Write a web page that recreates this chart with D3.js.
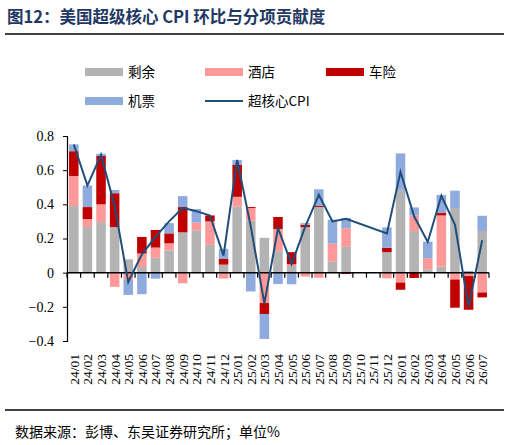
<!DOCTYPE html>
<html><head><meta charset="utf-8">
<script src="https://cdn.jsdelivr.net/npm/d3@7"></script>
<style>body{margin:0;background:#fff}</style>
</head><body><svg id="c" width="510" height="445"></svg>
<script>
const categories=["24/01","24/02","24/03","24/04","24/05","24/06","24/07","24/08","24/09","24/10","24/11","24/12","25/01","25/02","25/03","25/04","25/05","25/06","25/07","25/08","25/09","25/10","25/11","25/12","26/01","26/02","26/03","26/04","26/05","26/06","26/07"];
const residual=[0.39,0.267,0.296,0.267,0.078,0.033,0.087,0.13,0.236,0.248,0.163,0.047,0.386,0.304,0.204,0.126,0.039,0.267,0.384,0.064,0.151,null,null,0.12,0.485,0.244,0.02,0.035,0.378,0,0.244];
const hotel=[0.176,0.047,0.104,-0.083,-0.043,0.079,0.06,0.042,-0.062,0.045,0.137,-0.035,0.058,0.074,-0.178,0.13,0.01,-0.023,-0.03,0.106,0.109,null,null,-0.033,-0.058,0.091,0.065,0.30,-0.04,-0.02,-0.116];
const auto=[0.145,0.07,0.284,0.198,0,0.097,0.103,0.058,0.148,0,0.035,0.033,0.188,0.006,-0.064,0.07,0.071,0.013,0.006,0,-0.008,null,null,0.025,-0.042,-0.031,0,0.014,-0.165,-0.197,-0.029];
const airfare=[0.04,0.126,0.012,0.019,-0.087,-0.126,-0.035,0.06,0.064,0.079,0,0.06,0.027,-0.11,-0.146,-0.066,-0.068,0.01,0.098,0.14,0.06,null,null,0.12,0.213,0.047,0.097,0.106,0.102,0.01,0.089];
const supercore=[0.75,0.51,0.69,0.39,-0.055,0.107,0.21,0.3,0.38,0.36,0.335,0.1,0.66,0.27,-0.18,0.26,0.05,0.27,0.455,0.3,0.315,null,null,0.23,0.59,0.33,0.18,0.45,0.28,-0.2,0.19];
const yTicks=[-0.4,-0.2,0,0.2,0.4,0.6,0.8];
const seriesNames=["剩余","酒店","车险","机票"];
const colors=["#b3b3b3","#ff9999","#c00000","#8faadc"];

const svg=d3.select("#c");
const serif="'Liberation Serif','Times New Roman',serif";
const cjk="'Noto Sans CJK SC',sans-serif";
svg.append("text").attr("x",7).attr("y",23).attr("fill","#1f3864").attr("font-weight","bold")
  .attr("font-size",16.5).attr("font-family",cjk).text("图12：美国超级核心 CPI 环比与分项贡献度");
svg.append("line").attr("x1",5).attr("x2",504).attr("y1",34).attr("y2",34).attr("stroke","#000").attr("stroke-width",1.5);
svg.append("line").attr("x1",5).attr("x2",504).attr("y1",410).attr("y2",410).attr("stroke","#000").attr("stroke-width",1.5);
svg.append("text").attr("x",15).attr("y",437).attr("font-size",14).attr("font-family",cjk).text("数据来源：彭博、东吴证券研究所；单位%");

const x=d3.scaleBand().domain(categories).range([67,489]).paddingInner(0.3).paddingOuter(0.15);
const y=d3.scaleLinear().domain([-0.4,0.8]).range([341,136]);

const rows=categories.map((c,i)=>({c,s0:residual[i]||0,s1:hotel[i]||0,s2:auto[i]||0,s3:airfare[i]||0}));
const stack=d3.stack().keys(["s0","s1","s2","s3"]).offset(d3.stackOffsetDiverging)(rows);
stack.forEach((layer,k)=>{
  svg.append("g").selectAll("rect").data(layer).join("rect")
    .attr("x",d=>x(d.data.c)).attr("width",x.bandwidth())
    .attr("y",d=>y(Math.max(d[0],d[1]))).attr("height",d=>Math.abs(y(d[0])-y(d[1])))
    .attr("fill",colors[k]);
});

// y axis
const ya=svg.append("g").attr("transform","translate(67,0)").call(d3.axisLeft(y).tickValues(yTicks).tickSize(4).tickFormat(d=>d===0?"0":d3.format(".1f")(d)));
ya.selectAll("text").attr("font-family",serif).attr("font-size",14).attr("fill","#000").attr("dx",-6);
ya.select(".domain").attr("stroke","#000").attr("stroke-width",1.2);
ya.selectAll(".tick line").attr("stroke","#000");
// zero axis
const step=x.step();
svg.append("line").attr("x1",67).attr("x2",489).attr("y1",y(0)).attr("y2",y(0)).attr("stroke","#000").attr("stroke-width",1.5);
svg.append("g").selectAll("line").data(d3.range(categories.length+1)).join("line")
  .attr("x1",i=>x.range()[0]+i*step - (i===0?0:0)).attr("x2",i=>x.range()[0]+i*step)
  .attr("y1",y(0)).attr("y2",y(0)+5).attr("stroke","#000").attr("stroke-width",1.2);
// x labels
svg.append("g").selectAll("text").data(categories).join("text")
  .attr("transform",d=>`translate(${x(d)+x.bandwidth()/2+5},354) rotate(-90)`)
  .attr("text-anchor","end").attr("font-family",serif).attr("font-size",13.5).text(d=>d);

// line
const pts=categories.map((c,i)=>({c,v:supercore[i]})).filter(d=>d.v!=null);
svg.append("path").datum(pts).attr("fill","none").attr("stroke","#1f4e79").attr("stroke-width",2)
  .attr("d",d3.line().x(d=>x(d.c)+x.bandwidth()/2).y(d=>y(d.v)));

// legend
const leg=[{n:"剩余",t:"r",c:colors[0],x:85,y:72},{n:"酒店",t:"r",c:colors[1],x:205,y:72},{n:"车险",t:"r",c:colors[2],x:326,y:72},{n:"机票",t:"r",c:colors[3],x:85,y:101},{n:"超核心CPI",t:"l",c:"#1f4e79",x:205,y:101}];
leg.forEach(l=>{
  if(l.t==="r") svg.append("rect").attr("x",l.x).attr("y",l.y-4).attr("width",38).attr("height",8).attr("fill",l.c);
  else svg.append("line").attr("x1",l.x).attr("x2",l.x+38).attr("y1",l.y).attr("y2",l.y).attr("stroke",l.c).attr("stroke-width",2);
  svg.append("text").attr("x",l.x+43).attr("y",l.y+5).attr("font-size",13.5).attr("font-family",cjk).text(l.n);
});
</script></body></html>
